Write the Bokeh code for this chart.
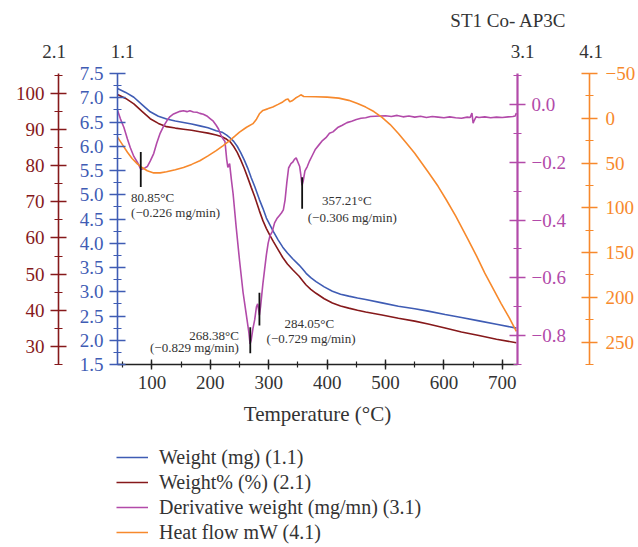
from bokeh.plotting import figure
from bokeh.layouts import column
from bokeh.models import (Range1d, LinearAxis, SingleIntervalTicker, NumeralTickFormatter,
                          CustomJSTickFormatter, Label, Legend, LegendItem)
from bokeh.core.properties import value
from bokeh.embed import file_html
from bokeh.resources import INLINE

# ---------------- data ----------------
temp_w = [41, 55, 69, 83, 97, 111, 125, 140, 154, 168, 182, 196, 210, 220, 228, 234, 240, 246,
          252, 258, 264, 270, 276, 284, 290, 296, 302, 308, 316, 324, 332, 341, 352, 358, 364,
          372, 381, 395, 409, 423, 437, 452, 466, 494, 522, 550, 573, 602, 630, 660, 690, 724]
weight_mg = [7.19, 7.11, 7.01, 6.86, 6.71, 6.62, 6.56, 6.52, 6.49, 6.46, 6.42, 6.38, 6.32, 6.29,
             6.23, 6.17, 6.10, 6.00, 5.87, 5.72, 5.55, 5.35, 5.17, 4.90, 4.72, 4.52, 4.38, 4.24,
             4.07, 3.92, 3.80, 3.68, 3.55, 3.47, 3.38, 3.29, 3.21, 3.10, 3.01, 2.95, 2.91, 2.87,
             2.84, 2.77, 2.70, 2.65, 2.60, 2.53, 2.47, 2.40, 2.33, 2.25]
weight_pct = [99.7, 98.6, 97.1, 95.0, 93.0, 91.7, 90.8, 90.4, 90.1, 89.8, 89.4, 89.0, 88.5, 88.0,
              87.3, 86.6, 85.3, 83.7, 81.6, 79.3, 76.7, 74.0, 71.4, 67.5, 64.8, 62.6, 60.7, 59.0,
              56.8, 54.6, 52.8, 51.2, 49.4, 48.2, 47.0, 45.8, 44.7, 43.2, 42.0, 41.2, 40.6, 40.0,
              39.5, 38.7, 37.8, 37.0, 36.2, 35.1, 34.0, 33.0, 32.0, 31.0]

temp_d = [41, 46, 52, 58, 63, 69, 75, 81, 86, 92, 97, 103, 108, 114, 120, 126, 131, 137, 143, 148,
          154, 160, 165, 171, 177, 182, 188, 194, 199, 205, 210, 214, 218, 222, 225, 228, 230, 233,
          236, 239, 244, 250, 256, 261, 266, 268, 270, 273, 276, 279, 281, 283, 284, 286, 288, 290,
          293, 296, 299, 302, 306, 310, 314, 318, 322, 325, 328, 331, 334, 338, 341, 344, 347, 350,
          353, 355, 357, 359, 362, 366, 370, 375, 380, 386, 392, 398, 404, 410, 418, 426, 434, 442,
          450, 458, 466, 474, 482, 490, 500, 510, 520, 530, 540, 550, 560, 570, 580, 590, 600, 610,
          620, 630, 640, 645, 648, 650, 652, 655, 660, 670, 680, 690, 700, 710, 718, 722, 724]
deriv = [-0.020, -0.050, -0.080, -0.120, -0.150, -0.180, -0.200, -0.225, -0.222, -0.215, -0.196,
         -0.170, -0.135, -0.100, -0.075, -0.055, -0.042, -0.033, -0.028, -0.024, -0.022, -0.025,
         -0.022, -0.026, -0.027, -0.031, -0.034, -0.040, -0.048, -0.058, -0.072, -0.085, -0.105,
         -0.120, -0.128, -0.190, -0.218, -0.205, -0.260, -0.310, -0.420, -0.540, -0.650, -0.720,
         -0.790, -0.829, -0.815, -0.775, -0.745, -0.700, -0.690, -0.715, -0.729, -0.700, -0.660,
         -0.620, -0.570, -0.520, -0.480, -0.455, -0.440, -0.410, -0.395, -0.385, -0.375, -0.365,
         -0.330, -0.270, -0.220, -0.205, -0.200, -0.190, -0.185, -0.200, -0.215, -0.245, -0.280,
         -0.265, -0.230, -0.215, -0.195, -0.175, -0.155, -0.140, -0.125, -0.115, -0.100, -0.095,
         -0.080, -0.072, -0.063, -0.058, -0.052, -0.048, -0.046, -0.042, -0.041, -0.040, -0.039,
         -0.042, -0.038, -0.043, -0.040, -0.044, -0.041, -0.045, -0.042, -0.044, -0.046, -0.043,
         -0.046, -0.048, -0.044, -0.045, -0.030, -0.065, -0.055, -0.043, -0.045, -0.043, -0.046,
         -0.044, -0.045, -0.043, -0.042, -0.040, -0.030]

temp_h = [41, 50, 58, 66, 75, 83, 92, 103, 114, 125, 140, 154, 168, 182, 196, 210, 222, 233, 242,
          250, 262, 273, 279, 284, 290, 298, 307, 316, 324, 330, 333, 336, 340, 346, 351, 355, 360,
          380, 400, 420, 437, 452, 466, 480, 494, 508, 522, 536, 550, 573, 590, 604, 620, 641, 656,
          670, 684, 698, 712, 724]
heat_flow = [21, 30, 38, 45, 51, 55, 58.6, 61, 61, 59.7, 57.5, 55, 51.5, 47.4, 42, 36.2, 30.5, 25,
             20, 15.5, 10, 6, 1, -5, -8.8, -10.5, -12.5, -15.5, -18.2, -21, -21.5, -18.5, -19.5,
             -22.6, -24.5, -26.2, -24.3, -24.0, -23.6, -22.5, -20, -16.5, -12.5, -7.5, -1, 7, 17,
             28, 39, 60, 76, 91, 109, 135, 154, 173, 190, 207, 223, 238]

peak_temps = [80.85, 268.38, 284.05, 357.21]
peak_rates = [-0.226, -0.829, -0.729, -0.306]
marker_top = [-0.165, -0.771, -0.652, -0.252]
marker_bottom = [-0.286, -0.861, -0.765, -0.361]

series_names = ["Weight (mg) (1.1)", "Weight% (%) (2.1)",
                "Derivative weight (mg/mn) (3.1)", "Heat flow mW (4.1)"]
axis_tags = ["2.1", "1.1", "3.1", "4.1"]
chart_title = "ST1 Co- AP3C"

# ---------------- style / layout ----------------
FONT = "Liberation Serif"
BLUE = "#3f5cb4"
MAROON = "#86191b"
PURPLE = "#b24aa9"
ORANGE = "#f7892c"
TXT = "#333333"

W = 638
TOP_H = 62                 # header strip (title + axis tags)
FL, RB = 117, 118          # frame left, right border
FR = W - RB
MB_TOP, MB_BOT = 11, 71
FH = 291
LEG_H = 110
BLUE_EXT, PURP_EXT = 62, 67   # spacing between stacked axes

X0, X1 = 41, 726
Y0, Y1 = 1.5, 7.5

# ---------------- header strip ----------------
top = figure(width=W, height=TOP_H, x_range=Range1d(0, W), y_range=Range1d(TOP_H, 0),
             output_backend="svg", toolbar_location=None,
             x_axis_location=None, y_axis_location=None,
             min_border_left=0, min_border_right=0, min_border_top=0, min_border_bottom=0)
top.frame_align = False
top.outline_line_color = None
top.grid.visible = False
tag_x = [FL - BLUE_EXT - 1.5, FL + 5, FR + 2, FR + PURP_EXT + 3.5]
top.text(x=tag_x, y=[TOP_H - 11] * 4, text=axis_tags, text_font=value(FONT),
         text_font_size=value("19px"), text_color=TXT, text_align="center",
         text_baseline="middle")
top.text(x=[566], y=[20], text=[chart_title], text_font=value(FONT),
         text_font_size=value("19px"), text_color=TXT, text_align="right",
         text_baseline="middle")

# ---------------- main plot ----------------
p = figure(width=W, height=MB_TOP + FH + MB_BOT, x_range=Range1d(X0, X1),
           y_range=Range1d(Y0, Y1), output_backend="svg", toolbar_location=None,
           min_border_left=FL, min_border_right=RB, min_border_top=MB_TOP,
           min_border_bottom=MB_BOT)
p.frame_align = False
p.outline_line_color = None
p.grid.visible = False

p.extra_y_ranges = {"pct": Range1d(25, 105.5), "deriv": Range1d(-0.9, 0.107),
                    "heat": Range1d(275, -50)}


def style_axis(ax, color, label_color):
    ax.axis_line_color = color
    ax.axis_line_width = 1.6
    ax.major_tick_line_color = color
    ax.minor_tick_line_color = color
    ax.major_tick_line_width = 1.4
    ax.minor_tick_line_width = 1.2
    ax.major_tick_in = 8
    ax.major_tick_out = 8
    ax.minor_tick_in = 4
    ax.minor_tick_out = 4
    ax.major_label_text_font = FONT
    ax.major_label_text_font_size = "19px"
    ax.major_label_text_color = label_color


minus_fmt1 = CustomJSTickFormatter(code="""
    if (Math.abs(tick) < 1e-9) return '0.0';
    return tick.toFixed(1).replace('-', '\u2212');
""")
minus_fmt0 = CustomJSTickFormatter(code="""
    if (Math.abs(tick) < 1e-9) return '0';
    return tick.toFixed(0).replace('-', '\u2212');
""")

ya = p.yaxis[0]
ya.ticker = SingleIntervalTicker(interval=0.5, num_minor_ticks=2)
ya.formatter = NumeralTickFormatter(format="0.0")
style_axis(ya, BLUE, BLUE)
ya.major_label_standoff = 6
ya.axis_label = " "
ya.axis_label_text_font_size = "13px"
ya.axis_label_standoff = 0

ax_pct = LinearAxis(y_range_name="pct", ticker=SingleIntervalTicker(interval=10, num_minor_ticks=2))
style_axis(ax_pct, MAROON, MAROON)
ax_pct.major_label_standoff = 6
p.add_layout(ax_pct, "left")

ax_d = LinearAxis(y_range_name="deriv", ticker=SingleIntervalTicker(interval=0.2, num_minor_ticks=2),
                  formatter=minus_fmt1)
style_axis(ax_d, PURPLE, PURPLE)
ax_d.axis_line_width = 2.2
ax_d.major_label_standoff = 6
ax_d.axis_label = " "
ax_d.axis_label_text_font_size = "12px"
ax_d.axis_label_standoff = 4
p.add_layout(ax_d, "right")

ax_h = LinearAxis(y_range_name="heat", ticker=SingleIntervalTicker(interval=50, num_minor_ticks=2),
                  formatter=minus_fmt0)
style_axis(ax_h, ORANGE, ORANGE)
ax_h.major_label_standoff = 8
p.add_layout(ax_h, "right")

xa = p.xaxis[0]
xa.ticker = SingleIntervalTicker(interval=100, num_minor_ticks=2)
style_axis(xa, "#222222", TXT)
xa.axis_line_width = 1.4
xa.major_tick_in = 5
xa.major_tick_out = 5
xa.minor_tick_in = 3
xa.minor_tick_out = 3
xa.major_label_standoff = 6
xa.axis_label = "Temperature (\u00b0C)"
xa.axis_label_text_font = FONT
xa.axis_label_text_font_style = "normal"
xa.axis_label_text_font_size = "21px"
xa.axis_label_text_color = TXT
xa.axis_label_standoff = 10

r_w = p.line(temp_w, weight_mg, color=BLUE, line_width=1.6)
r_p = p.line(temp_w, weight_pct, color=MAROON, line_width=1.6, y_range_name="pct")
r_d = p.line(temp_d, deriv, color=PURPLE, line_width=1.6, y_range_name="deriv")
r_h = p.line(temp_h, heat_flow, color=ORANGE, line_width=1.6, y_range_name="heat")

p.segment(x0=peak_temps, y0=marker_top, x1=peak_temps, y1=marker_bottom, color="#111111",
          line_width=1.8, y_range_name="deriv")


def ann(x, y, text, align):
    p.add_layout(Label(x=x, y=y, text=text, text_font=FONT, text_font_size="13px",
                       text_color=TXT, text_align=align, text_baseline="middle",
                       y_range_name="deriv"))


def fmt_rate(r):
    return "(\u2212%.3f mg/min)" % abs(r)


def fmt_temp(t):
    return "%.2f\u00b0C" % t


ann(64.3, -0.321, fmt_temp(peak_temps[0]), "left")
ann(64.3, -0.373, fmt_rate(peak_rates[0]), "left")
ann(248.9, -0.799, fmt_temp(peak_temps[1]), "right")
ann(248.9, -0.840, fmt_rate(peak_rates[1]), "right")
ann(369.6, -0.759, fmt_temp(peak_temps[2]), "center")
ann(372.5, -0.811, fmt_rate(peak_rates[2]), "center")
ann(433.7, -0.332, fmt_temp(peak_temps[3]), "center")
ann(443.0, -0.390, fmt_rate(peak_rates[3]), "center")

# ---------------- legend strip ----------------
leg = figure(width=W, height=LEG_H, x_range=Range1d(0, 1), y_range=Range1d(1000, 1001),
             output_backend="svg", toolbar_location=None,
             x_axis_location=None, y_axis_location=None,
             min_border_left=FL - 1, min_border_right=0, min_border_top=10, min_border_bottom=0)
leg.frame_align = False
leg.outline_line_color = None
leg.grid.visible = False
# same series, outside this strip's visible range: only their legend swatches show
sw = [leg.line(temp_w, weight_mg, color=BLUE, line_width=1.6),
      leg.line(temp_w, weight_pct, color=MAROON, line_width=1.6),
      leg.line(temp_d, deriv, color=PURPLE, line_width=1.6),
      leg.line(temp_h, heat_flow, color=ORANGE, line_width=1.6)]
legend = Legend(items=[LegendItem(label=n, renderers=[r]) for n, r in zip(series_names, sw)],
                location="top_left", orientation="vertical")
legend.label_text_font = FONT
legend.label_text_font_size = "20px"
legend.label_text_color = TXT
legend.glyph_width = 32
legend.glyph_height = 24
legend.label_height = 24
legend.label_standoff = 11
legend.spacing = 1
legend.padding = 10
legend.margin = 0
legend.border_line_color = None
legend.background_fill_alpha = 0
leg.add_layout(legend)

layout = column(top, p, leg, spacing=0)
open("out.html", "w").write(file_html(layout, INLINE))
